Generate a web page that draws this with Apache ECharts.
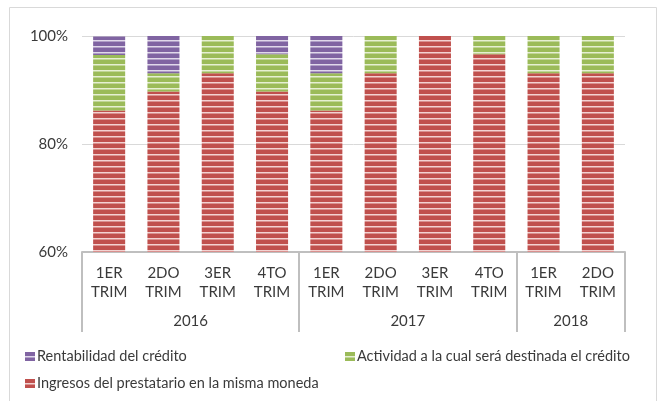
<!DOCTYPE html>
<html>
<head>
<meta charset="utf-8">
<style>
html,body{margin:0;padding:0;background:#fff;}
#c{width:663px;height:401px;}
</style>
<script src="https://cdn.jsdelivr.net/npm/echarts@6/dist/echarts.min.js"></script>
</head>
<body>
<div id="c"></div>
<script>
// ---- data ----
var categories = ['1ER\nTRIM','2DO\nTRIM','3ER\nTRIM','4TO\nTRIM','1ER\nTRIM','2DO\nTRIM','3ER\nTRIM','4TO\nTRIM','1ER\nTRIM','2DO\nTRIM'];
var years = ['2016','2017','2018'];
var yearSizes = [4, 4, 2];
var ingresos = [86.2, 89.7, 93.1, 89.7, 86.2, 93.1, 100, 96.6, 93.1, 93.1];
var actividad = [10.3, 3.4, 6.9, 6.9, 6.9, 6.9, 0, 3.4, 6.9, 6.9];
var rentabilidad = [3.4, 6.9, 0, 3.4, 6.9, 0, 0, 0, 0, 0];
var yTicks = [60, 80, 100];
var seriesNames = ['Rentabilidad del crédito', 'Actividad a la cual será destinada el crédito', 'Ingresos del prestatario en la misma moneda'];

// ---- group boundaries / centers from sizes ----
var bounds = [0], centers = [], acc = 0;
yearSizes.forEach(function (s) { centers.push(acc + s / 2); acc += s; bounds.push(acc); });

function stripe(base, light) {
  var cv = document.createElement('canvas');
  cv.width = 8; cv.height = 6;
  var ctx = cv.getContext('2d');
  ctx.fillStyle = base; ctx.fillRect(0, 0, 8, 6);
  ctx.fillStyle = light; ctx.fillRect(0, 4, 8, 1);
  ctx.globalAlpha = 0.5; ctx.fillRect(0, 5, 8, 1);
  return { image: cv, repeat: 'repeat' };
}
var redP = stripe('#c0504d', '#f3d2d1');
var greenP = stripe('#9bbb59', '#e6efd3');
var purpleP = stripe('#8064a2', '#e0d8ea');

var FONT = 'Lato';
var TXT = '#3a3a3a';
var legendBase = { itemWidth: 10, itemHeight: 9, itemGap: 0, padding: 0, icon: 'rect',
  textStyle: { fontFamily: FONT, fontSize: 14.5, color: TXT, padding: [0, 0, 0, -3] } };

var chart = echarts.init(document.getElementById('c'), null, { renderer: 'canvas' });
chart.setOption({
  animation: false,
  textStyle: { fontFamily: FONT },
  graphic: [{
    type: 'rect', shape: { x: 9.5, y: 7.5, width: 647, height: 420 },
    style: { fill: 'none', stroke: '#d9d9d9', lineWidth: 1 }, silent: true, z: -10
  }],
  grid: { left: 82, right: 38, top: 36, bottom: 149, containLabel: false },
  legend: [
    Object.assign({ data: [seriesNames[0]], left: 25, top: 349 }, legendBase),
    Object.assign({ data: [seriesNames[1]], left: 345, top: 349 }, legendBase),
    Object.assign({ data: [seriesNames[2]], left: 25, top: 376 }, legendBase)
  ],
  xAxis: [{
    type: 'category', data: categories,
    axisLine: { show: true, lineStyle: { color: '#bfbfbf', width: 2 } },
    axisTick: { show: false },
    axisLabel: { interval: 0, fontFamily: FONT, fontSize: 15, color: TXT, lineHeight: 19, margin: 12 }
  }, {
    type: 'value', min: 0, max: categories.length, position: 'bottom',
    axisLine: { show: false },
    splitLine: { show: false },
    axisTick: { show: true, customValues: bounds, length: 80, lineStyle: { color: '#bfbfbf', width: 2 } },
    axisLabel: {
      customValues: centers, margin: 62, fontFamily: FONT, fontSize: 15, color: TXT,
      formatter: function (v) { var i = centers.indexOf(v); return i >= 0 ? years[i] : ''; }
    }
  }],
  yAxis: {
    type: 'value', min: yTicks[0], max: yTicks[yTicks.length - 1], interval: 20,
    axisLine: { show: false }, axisTick: { show: false },
    splitLine: { lineStyle: { color: '#d9d9d9', width: 1 } },
    axisLabel: { formatter: '{value}%', fontFamily: FONT, fontSize: 15, color: TXT, margin: 14 }
  },
  series: [
    { name: seriesNames[2], type: 'bar', stack: 's', data: ingresos, barCategoryGap: '41%',
      itemStyle: { color: redP } },
    { name: seriesNames[1], type: 'bar', stack: 's', data: actividad,
      itemStyle: { color: greenP } },
    { name: seriesNames[0], type: 'bar', stack: 's', data: rentabilidad,
      itemStyle: { color: purpleP } }
  ]
});
</script>
</body>
</html>
